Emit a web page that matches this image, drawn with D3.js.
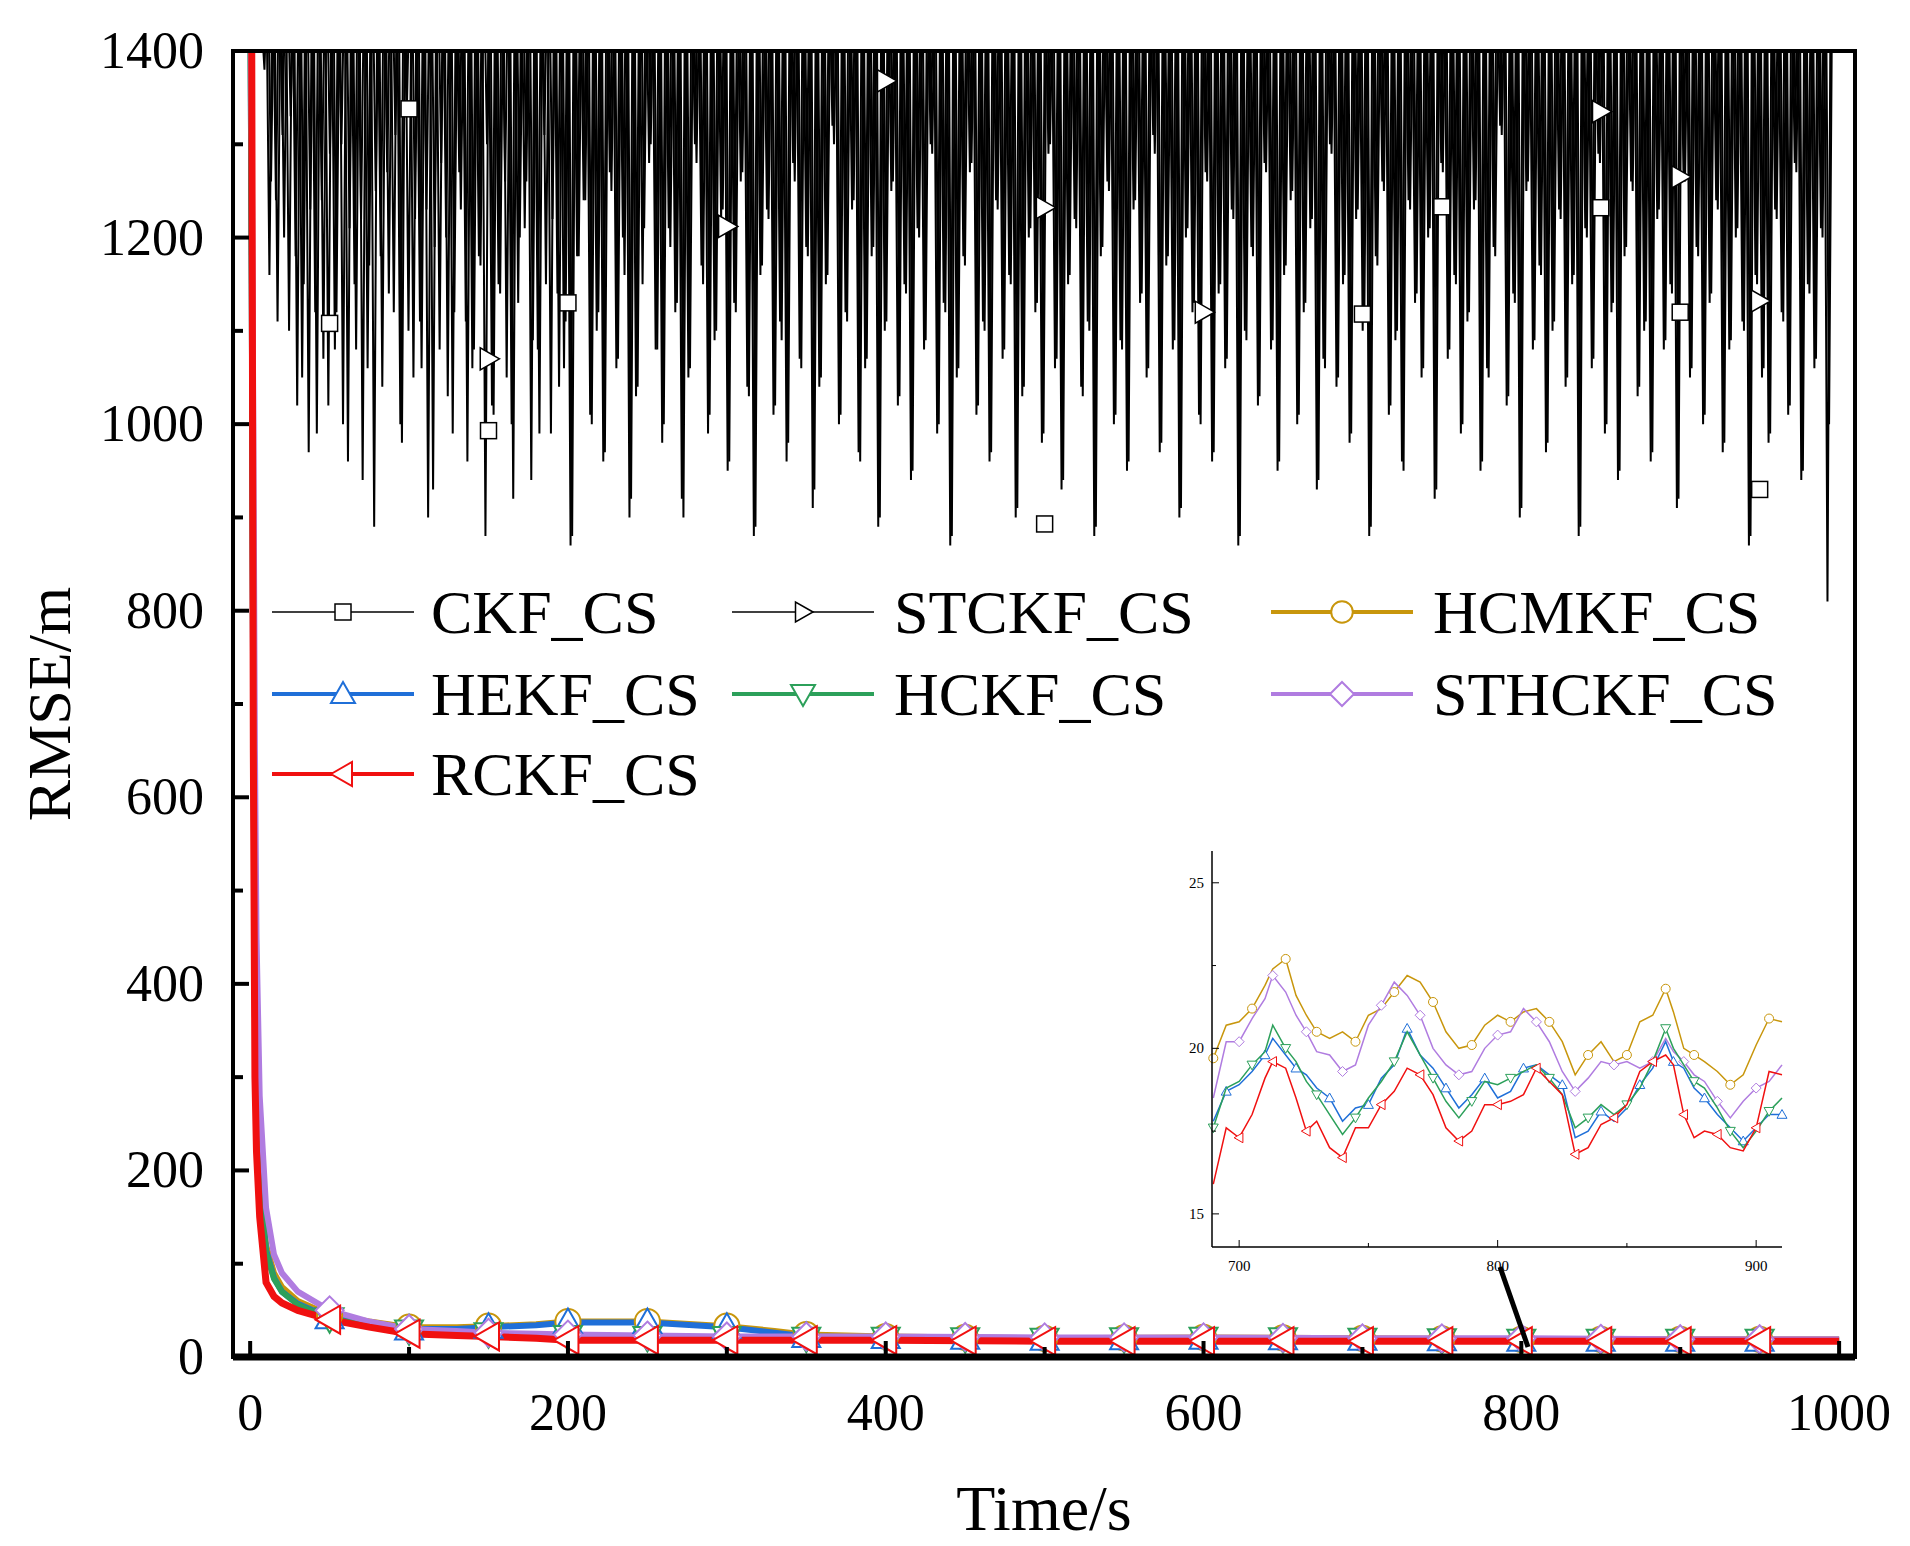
<!DOCTYPE html>
<html><head><meta charset="utf-8">
<script src="https://cdn.jsdelivr.net/npm/d3@7"></script>
<style>body{margin:0;background:#fff}svg text{font-family:"Liberation Serif","Times New Roman",serif}</style>
</head><body><div id="chart"></div>
<script>
const series = [
  { name: "CKF_CS", color: "#000", marker: "square" },
  { name: "STCKF_CS", color: "#000", marker: "right" },
  { name: "HCMKF_CS", color: "#c8960c", marker: "circle" },
  { name: "HEKF_CS", color: "#1f6fd8", marker: "up" },
  { name: "HCKF_CS", color: "#2ca05a", marker: "down" },
  { name: "STHCKF_CS", color: "#b07ce0", marker: "diamond" },
  { name: "RCKF_CS", color: "#f01010", marker: "left" }
];
const xTicks = [0, 200, 400, 600, 800, 1000];
const yTicks = [0, 200, 400, 600, 800, 1000, 1200, 1400];

// lows of the black spikes, one every ~4 s from t = 8
const ckfLows = [1400,1160,1240,1310,1100,1180,1050,970,1120,1240,1020,1080,1300,960,1150,1220,1060,890,1180,1270,
  1120,1000,1340,1050,1110,1230,930,1080,1200,990,1270,1110,1060,1180,880,1020,1150,1260,1000,1130,
  1210,940,1080,1310,990,1140,1060,870,1180,1240,1010,1100,960,1270,1060,1200,900,1030,1150,1280,
  1080,980,1210,1120,920,1050,1300,1170,990,1090,1220,950,1130,1260,1040,880,1160,1230,1010,1110,
  960,1280,1070,1190,910,1040,1150,1320,1000,1120,1230,970,1060,1180,890,1100,1250,1020,1150,940,
  1210,1080,1300,990,1130,870,1050,1180,1270,1010,1110,960,1240,1070,1160,900,1030,1200,1120,980,
  1290,1060,930,1150,1220,1040,1110,880,1180,1260,1000,1090,950,1230,1130,1050,1310,970,1170,1080,
  900,1200,1120,1010,1270,960,1140,1060,1230,870,1100,1190,1020,1280,1080,950,1160,1240,1000,1120,
  1210,930,1070,1300,1040,1150,980,1220,1100,880,1180,1260,1010,1090,960,1240,1130,1050,1200,920,
  1280,1070,1160,990,1110,1230,950,1060,1190,1320,1020,1140,900,1250,1080,1170,970,1100,1230,1040,
  1150,880,1210,1060,1290,990,1120,940,1180,1260,1030,1100,960,1220,1080,1150,910,1270,1050,1190,
  1000,1130,1240,970,1080,1200,1110,870,1160,1050,980,1230,1120,1010,1280,940,1150,1060,1210,810];
const stckfLows = [1380,1260,1110,1200,1330,1020,1150,1230,990,1070,1290,1120,1000,1210,1080,940,1170,1250,1040,1140,
  1310,980,1100,1220,1060,900,1190,1280,1030,1120,1230,960,1080,1170,1300,1010,1140,1050,920,1200,
  1260,1090,990,1150,1220,1040,1110,880,1180,1240,1000,1120,970,1250,1070,1160,920,1040,1210,1300,
  1080,1000,1190,1130,900,1060,1280,1150,1010,1100,1230,960,1120,1270,1030,890,1170,1220,1020,1090,
  980,1260,1060,1180,930,1050,1160,1300,1010,1110,1240,960,1070,1190,900,1110,1260,1030,1140,950,
  1200,1090,1290,1000,1120,880,1060,1170,1280,1020,1100,970,1230,1080,1150,910,1040,1210,1130,990,
  1300,1070,940,1160,1210,1030,1100,890,1190,1250,1010,1080,960,1240,1140,1060,1290,980,1180,1090,
  910,1210,1130,1000,1260,970,1150,1070,1220,880,1090,1180,1030,1270,1090,960,1170,1250,1010,1130,
  1220,940,1060,1290,1050,1160,990,1230,1110,890,1170,1250,1020,1100,950,1230,1140,1060,1210,930,
  1270,1080,1150,1000,1120,1240,960,1050,1180,1310,1030,1130,910,1260,1090,1160,980,1110,1220,1050,
  1160,890,1200,1070,1280,1000,1130,950,1190,1250,1040,1110,970,1230,1090,1140,920,1260,1060,1180,
  1010,1140,1230,980,1090,1210,1100,880,1150,1060,990,1220,1110,1020,1270,950,1140,1070,1200,1000];
const ckfMarkT = [50, 100, 150, 200, 500, 700, 750, 850, 900, 950];
const ckfMarkV = [1108, 1338, 993, 1130, 893, 1118, 1233, 1232, 1120, 930];
const stckfMarkT = [150, 300, 400, 500, 600, 850, 900, 950];
const stckfMarkV = [1070, 1212, 1368, 1232, 1120, 1335, 1265, 1132];

// smooth series in main plot: [time, RMSE]
const mainT = [0, 1, 2, 3, 4, 6, 10, 15, 20, 30, 50, 75, 100, 130, 150, 180, 200, 250, 300, 330, 350, 400, 500, 600, 700, 800, 900, 1000];
const hcmkfMain = [1500, 1200, 700, 450, 320, 200, 120, 90, 75, 60, 45, 38, 32, 32, 33, 35, 38, 38, 33, 28, 24, 22, 20, 21, 20, 19, 19, 19];
const hekfMain  = [1500, 1150, 650, 420, 300, 190, 115, 85, 70, 57, 42, 35, 30, 30, 32, 34, 37, 37, 32, 26, 22, 21, 19, 20, 19, 18, 18, 18];
const hckfMain  = [1500, 1150, 660, 420, 300, 190, 112, 84, 70, 56, 41, 34, 28, 26, 25, 23, 22, 21, 21, 21, 20, 20, 19, 20, 19, 18, 18, 18];
const sthckfMain= [1500, 1300, 1000, 650, 450, 280, 160, 110, 90, 70, 50, 38, 30, 28, 26, 25, 24, 23, 22, 22, 22, 22, 21, 21, 20, 20, 19, 19];
const rckfMain  = [1500, 1400, 650, 300, 220, 150, 80, 65, 58, 50, 40, 32, 25, 23, 22, 20, 18, 18, 18, 18, 18, 18, 17, 17, 17, 17, 17, 17];

// zoomed window 690-910 s
const insetT = [690,695,700,705,710,713,718,722,726,730,735,740,745,750,755,760,765,770,775,780,785,790,795,800,805,810,815,820,825,830,835,840,845,850,855,860,865,868,872,876,880,885,890,895,900,905,910];
const hcmkfIn = [19.7,20.7,20.8,21.2,21.9,22.4,22.7,21.6,21.0,20.5,20.3,20.5,20.2,21.0,21.2,21.7,22.2,22.0,21.4,20.5,20.0,20.1,20.7,21.0,20.8,21.1,21.2,20.8,20.2,19.2,19.8,20.2,19.6,19.8,20.8,21.0,21.8,21.1,20.0,19.8,19.6,19.3,18.9,19.2,20.1,20.9,20.8];
const sthckfIn= [18.5,20.2,20.2,20.9,21.5,22.2,21.7,21.0,20.5,19.9,19.8,19.3,19.5,20.7,21.3,22.0,21.6,21.0,20.0,19.5,19.2,19.3,20.0,20.4,20.5,21.2,20.8,20.2,19.3,18.7,19.1,19.6,19.5,19.6,19.4,19.6,20.3,19.9,19.6,19.2,19.0,18.4,17.9,18.4,18.8,19.0,19.5];
const hekfIn  = [17.8,18.7,18.9,19.3,19.8,20.3,19.8,19.4,19.2,18.8,18.5,17.8,18.2,18.3,19.1,19.5,20.6,19.8,19.4,18.8,18.2,18.6,19.1,18.5,18.7,19.4,19.5,19.2,18.9,17.3,17.5,18.1,17.8,18.2,18.9,19.4,20.2,19.6,19.4,18.8,18.5,18.0,17.6,17.2,17.6,18.0,18.0];
const hckfIn  = [17.6,18.8,19.0,19.5,19.9,20.7,20.0,19.6,19.0,18.6,18.0,17.4,17.9,18.5,19.0,19.6,20.5,19.8,19.1,18.4,17.9,18.4,19.0,18.9,19.1,19.3,19.5,19.1,18.6,17.6,17.9,18.3,18.0,18.3,18.8,19.6,20.6,20.0,19.5,19.0,18.8,18.2,17.5,17.0,17.5,18.1,18.5];
const rckfIn  = [15.9,17.6,17.3,18.0,19.1,19.6,19.4,18.5,17.5,17.8,17.0,16.7,17.6,17.6,18.3,18.7,19.4,19.2,18.6,17.6,17.2,17.5,18.3,18.3,18.4,18.6,19.4,19.0,18.6,16.8,17.0,17.7,17.9,18.3,19.3,19.6,19.8,19.5,18.0,17.3,17.5,17.4,17.0,16.9,17.6,19.3,19.2];
const insetXTicks = [700, 800, 900];
const insetYTicks = [15, 20, 25];

const W = 1910, H = 1546;
const svg = d3.select("#chart").append("svg").attr("width", W).attr("height", H);
const pL = 233, pR = 1855, pT = 51, pB = 1357;
const x = d3.scaleLinear().domain([-10.8, 1010]).range([pL, pR]);
const y = d3.scaleLinear().domain([0, 1400]).range([pB, pT]);

svg.append("clipPath").attr("id", "clip").append("rect")
  .attr("x", pL).attr("y", pT).attr("width", pR - pL).attr("height", pB - pT);

function marker(g, type, cx, cy, size, color, sw) {
  const s = size / 2;
  let el;
  if (type === "square") el = g.append("rect").attr("x", cx - s * 0.8).attr("y", cy - s * 0.8).attr("width", s * 1.6).attr("height", s * 1.6);
  else if (type === "circle") el = g.append("circle").attr("cx", cx).attr("cy", cy).attr("r", s * 0.9);
  else {
    const pts = {
      up: [[0, -s], [s, s * 0.75], [-s, s * 0.75]],
      down: [[0, s], [s, -s * 0.75], [-s, -s * 0.75]],
      left: [[-s, 0], [s * 0.75, -s], [s * 0.75, s]],
      right: [[s, 0], [-s * 0.75, -s], [-s * 0.75, s]],
      diamond: [[0, -s], [s, 0], [0, s], [-s, 0]]
    }[type];
    el = g.append("polygon").attr("points", pts.map(p => [cx + p[0], cy + p[1]].join(",")).join(" "));
  }
  el.attr("fill", "#fff").attr("stroke", color).attr("stroke-width", sw);
}

const plot = svg.append("g").attr("clip-path", "url(#clip)");
const line = d3.line().x(d => x(d[0])).y(d => y(d[1]));

function spikes(lows, t0) {
  const step = 4.12;
  const pts = [[t0 - step, 1500]];
  lows.forEach((v, i) => { pts.push([t0 + i * step, v]); pts.push([t0 + i * step + step / 2, 1500]); });
  return pts;
}
plot.append("path").attr("d", line(spikes(ckfLows, 8))).attr("fill", "none").attr("stroke", "#000").attr("stroke-width", 2);
plot.append("path").attr("d", line(spikes(stckfLows, 9))).attr("fill", "none").attr("stroke", "#000").attr("stroke-width", 2);

const mains = [[hcmkfMain, 2], [hekfMain, 3], [hckfMain, 4], [sthckfMain, 5], [rckfMain, 6]];
mains.forEach(([vals, si]) => {
  plot.append("path").attr("d", line(mainT.map((t, i) => [t, vals[i]])))
    .attr("fill", "none").attr("stroke", series[si].color).attr("stroke-width", si === 6 ? 7 : 6);
});
const markT = d3.range(50, 1000, 50);
mains.forEach(([vals, si]) => {
  const interp = d3.scaleLinear().domain(mainT).range(vals);
  markT.forEach(t => marker(plot, series[si].marker, x(t), y(interp(t)), 28, series[si].color, 2));
});
ckfMarkT.forEach((t, i) => marker(plot, "square", x(t), y(ckfMarkV[i]), 20, "#000", 1.5));
stckfMarkT.forEach((t, i) => marker(plot, "right", x(t), y(stckfMarkV[i]), 22, "#000", 1.5));

// frame and axes
svg.append("rect").attr("x", pL).attr("y", pT).attr("width", pR - pL).attr("height", pB - pT)
  .attr("fill", "none").attr("stroke", "#000").attr("stroke-width", 4);
svg.append("line").attr("x1", pL).attr("x2", pR).attr("y1", pB).attr("y2", pB).attr("stroke", "#000").attr("stroke-width", 7);
const ax = svg.append("g");
d3.range(0, 1001, 100).forEach(t => {
  const len = t % 200 === 0 ? 16 : 10;
  ax.append("line").attr("x1", x(t)).attr("x2", x(t)).attr("y1", pB).attr("y2", pB - len).attr("stroke", "#000").attr("stroke-width", 4);
});
d3.range(0, 1401, 100).forEach(v => {
  const len = v % 200 === 0 ? 16 : 10;
  ax.append("line").attr("x1", pL).attr("x2", pL + len).attr("y1", y(v)).attr("y2", y(v)).attr("stroke", "#000").attr("stroke-width", 4);
});
xTicks.forEach(t => ax.append("text").attr("x", x(t)).attr("y", 1430).attr("text-anchor", "middle")
  .attr("font-size", 52).text(t));
yTicks.forEach(v => ax.append("text").attr("x", 204).attr("y", y(v) + 17).attr("text-anchor", "end")
  .attr("font-size", 52).text(v));
svg.append("text").attr("x", (pL + pR) / 2).attr("y", 1530).attr("text-anchor", "middle").attr("font-size", 64).text("Time/s");
svg.append("text").attr("transform", "translate(70,704) rotate(-90)").attr("text-anchor", "middle").attr("font-size", 62).text("RMSE/m");

// legend
const legX = [[272, 431], [732, 894], [1271, 1433]];
const legY = [612, 694, 774];
series.forEach((s, k) => {
  const c = k % 3, r = Math.floor(k / 3);
  const yy = legY[r];
  const [lx, tx] = legX[c];
  const thin = k < 2;
  svg.append("line").attr("x1", lx).attr("x2", lx + 142).attr("y1", yy).attr("y2", yy)
    .attr("stroke", s.color).attr("stroke-width", thin ? 1.6 : 4);
  marker(svg, s.marker, lx + 71, yy, thin ? 20 : 24, s.color, thin ? 1.5 : 2);
  svg.append("text").attr("x", tx).attr("y", yy + 21).attr("font-size", 62).text(s.name);
});

// pointer to zoomed window
svg.append("line").attr("x1", 1500).attr("y1", 1267).attr("x2", 1528).attr("y2", 1347).attr("stroke", "#000").attr("stroke-width", 5);

// inset
const il = 1212, ir = 1782, it = 851, ib = 1247;
const ix = d3.scaleLinear().domain([689.5, 910]).range([il, ir]);
const iy = d3.scaleLinear().domain([14.0, 25.96]).range([ib, it]);
svg.append("rect").attr("x", il).attr("y", it).attr("width", ir - il).attr("height", ib - it).attr("fill", "#fff");
const ins = svg.append("g");
const iline = d3.line().x(d => ix(d[0])).y(d => iy(d[1]));
const insets = [[hcmkfIn, 2], [sthckfIn, 5], [hekfIn, 3], [hckfIn, 4], [rckfIn, 6]];
insets.forEach(([vals, si], k) => {
  const pts = insetT.map((t, i) => [t, vals[i]]);
  ins.append("path").attr("d", iline(pts)).attr("fill", "none").attr("stroke", series[si].color).attr("stroke-width", 1.5);
  pts.forEach((p, i) => { if ((i + k) % 3 === 0) marker(ins, series[si].marker, ix(p[0]), iy(p[1]), 10, series[si].color, 1); });
});
ins.append("line").attr("x1", il).attr("x2", il).attr("y1", it).attr("y2", ib).attr("stroke", "#000").attr("stroke-width", 1.5);
ins.append("line").attr("x1", il).attr("x2", ir).attr("y1", ib).attr("y2", ib).attr("stroke", "#000").attr("stroke-width", 1.5);
[700, 750, 800, 850, 900].forEach(t => ins.append("line").attr("x1", ix(t)).attr("x2", ix(t)).attr("y1", ib).attr("y2", ib - (t % 100 ? 4 : 7)).attr("stroke", "#000"));
[15, 17.5, 20, 22.5, 25].forEach(v => ins.append("line").attr("x1", il).attr("x2", il + (v % 5 ? 4 : 7)).attr("y1", iy(v)).attr("y2", iy(v)).attr("stroke", "#000"));
insetXTicks.forEach(t => ins.append("text").attr("x", ix(t)).attr("y", ib + 24).attr("text-anchor", "middle").attr("font-size", 15).text(t));
insetYTicks.forEach(v => ins.append("text").attr("x", il - 8).attr("y", iy(v) + 5).attr("text-anchor", "end").attr("font-size", 15).text(v));
</script></body></html>
